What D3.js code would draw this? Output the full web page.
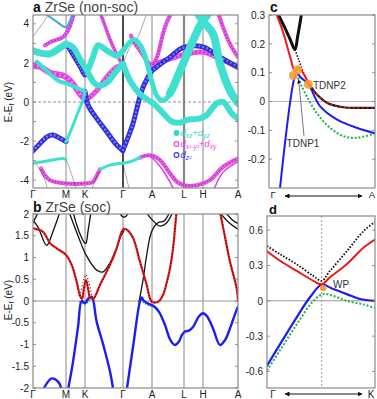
<!DOCTYPE html>
<html>
<head>
<meta charset="utf-8">
<script src="https://cdn.jsdelivr.net/npm/d3@7"></script>
<style>
  body { margin: 0; background: #fff; }
  svg { display: block; font-family: "Liberation Sans", Arial, Helvetica, sans-serif; }
</style>
</head>
<body>
<div id="fig"></div>
<script>
// k-path positions (path length units) and labels
const kTicks = [0, 33, 52, 90, 119, 151, 170, 205];
const kLabels = ["Γ", "M", "K", "Γ", "A", "L", "H", "A"];
const aTicks = [4, 2, 0, -2, -4];
const bTicks = [2, 1.5, 1, 0.5, 0, -0.5, -1, -1.5, -2];
const cTicks = [0.3, 0.2, 0.1, 0, -0.1, -0.2];
const dTicks = [0.6, 0.3, 0, -0.3, -0.6];

// ---- panel a (non-soc) bands, [k, E] ----
const aT_top   = [[0,2.62],[8,2.5],[17,2.46],[25,2.7],[33,2.97]];
const aT_MKa   = [[33,2.97],[40,2.8],[47,2.2],[54,1.6],[60,1.05],[65,0.84],[74,1.0],[82,1.5],[90,1.95]];
const aB_MK    = [[33,2.97],[37,2.63],[47,1.78],[52,1.35],[56,1.75]];
const aT_KG    = [[56,1.75],[60,2.3],[65,2.9],[74,2.63],[84,2.37],[90,2.62]];
const aM_low   = [[0,1.86],[7,1.8],[17,1.5],[30,1.35],[36,1.15],[40,0.92],[47,0.41],[52,0.1]];
const aM_KG    = [[52,0.1],[57,0.25],[63.7,0.58],[73.7,1.27],[83.7,1.78],[90,1.9]];
const aT_low   = [[3.7,2.07],[13.7,1.6],[25,1.1],[33,0.95],[43,0.75],[52,0.55]];
const aM_up    = [[12,2.9],[17,3.06],[30,3.32],[35,3.66],[39,4.17],[41,4.6]];
const aThin1   = [[0,3.35],[8,3.9],[17,4.6]];
const aCB      = [[10,4.6],[22,4.17],[33,3.83],[37,4.17],[40,4.6]];
const aM_KGtop = [[67,4.6],[72,3.9],[77,3.2],[84,2.4],[90,1.85]];
const aB_GM    = [[0,-2.5],[4,-2.29],[14,-1.78],[20,-1.69],[27,-1.86],[33,-2.03]];
const aT_MKlow = [[33,-2.05],[40,-1.2],[46,-0.4],[50,0.1],[52,0.55]];
const aB_KG    = [[52,0.55],[55,-0.15],[63.7,-0.84],[73.7,-1.52],[82,-2.1],[90,-2.5]];
const aT_bot1  = [[0,-3.14],[10,-3.06],[30,-2.89],[33,-2.95]];
const aM_bot   = [[8,-3.4],[12,-3.76],[17,-4.0],[33,-4.17],[52,-4.17],[60,-4.09],[64,-3.74],[67,-3.45]];
const aT_bot2  = [[67,-3.45],[77,-3.23],[90,-3.14]];
const aThinB1  = [[0,-3.0],[5,-3.3],[12,-4.0],[15,-4.6]];
const aThinB2  = [[33,-2.95],[38,-3.6],[44,-4.6]];
const aThinB3  = [[58,-4.6],[63,-3.9],[70,-3.35],[80,-3.18],[90,-3.14]];
const aThinB4  = [[90,-3.14],[92,-3.6],[97,-4.6]];
const aB_GA    = [[90,-2.46],[100,-1.1],[105.5,0],[110,0.75],[115,1.27],[119,1.6],[124,1.8],[137,2.29],[150,2.78],[170,2.82],[187,2.29],[205,1.78]];
const aM_AH    = [[119,1.9],[137,2.2],[154,2.46],[170,2.55],[187,2.2],[205,1.78]];
const aM_AV    = [[98,3.4],[100,3.14],[107,2.63],[113.7,2.12],[119,1.9],[124,2.3],[130,3.49],[134,4.1],[139,4.6]];
const aM_right = [[185,4.6],[190,3.83],[197,2.97],[205,2.29]];
const aThinGA  = [[90,1.95],[97,2.8],[104,3.23],[114,4.6]];
const aT_GA1a  = [[90,2.62],[101,3.2],[108,2.85],[114,2.0],[119,1.0],[124,0.3],[129,0.08],[133,0.15],[137,0.45]];
const aT_GA1b  = [[137,0.45],[140,0.75],[150,1.95],[160,3.14],[167,3.9],[170,4.15],[173,3.95],[180,3.49],[187,1.95],[197,0.58],[205,-0.05]];
const aT_GA2   = [[90,1.95],[97,1.1],[107,0.4],[117,0.04],[120.3,-0.07],[130.3,-0.58],[138.7,-1.0],[147,-1.06],[153.7,-0.92],[167,-0.84],[173.7,-0.67],[183.7,-0.07],[190.3,0.0],[198.7,-0.58],[205,-0.85]];
const aT_Htop  = [[163,4.6],[170,4.15],[177,4.6]];
const aT_bot3  = [[90,-3.14],[97,-3.06],[107,-2.85]];
const aM_bot2  = [[107,-2.85],[117,-2.72],[127,-2.97],[137,-3.65],[144,-4.09],[151,-4.26],[164,-4.26],[177,-4.0],[190,-3.32],[205,-2.89]];
const aThinM1  = [[110,-2.78],[117,-2.8],[127,-3.3],[137,-4.1],[142,-4.6]];
const aThinM2  = [[180,-4.6],[190,-3.6],[205,-3.05]];

// ---- panel b (soc) bands ----
const bRed  = [[0,1.67],[10,1.59],[17,1.33],[23.7,1.21],[33,1.06],[38.7,0.83],[43.7,0.44],[47,0.12],[49,0.05],[51,0.3],[53,0.48],[55,0.3],[57,0.08],[60,0.05],[63,0.15],[67,0.37],[77,0.83],[83.7,1.21],[88.7,1.59],[91,1.66],[95,1.62],[100.3,1.44],[107,0.9],[113.7,0.37],[117,0.06],[119,-0.02],[125,-0.02],[130,0.14],[134,0.45],[137,0.75],[140,1.2],[142,1.67],[143.5,2.05]];
const bRedR = [[187,2.05],[190.3,1.67],[197,0.9],[203.7,0.29],[205,0.0]];
const bDotK = [[47,0.12],[50,0.42],[53,0.6],[56,0.42],[59,0.1]];
const bK1 = [[0,1.85],[5,1.7],[13.7,1.28],[20,1.6],[27,2.05]];
const bK2 = [[0,1.8],[4,1.98],[6,2.05]];
const bK3 = [[40,2.05],[46,1.6],[52,1.33],[53,1.33],[55,1.6],[58,2.05]];
const bK4 = [[36,2.05],[45,1.5],[53,1.06],[63.7,0.71],[70,0.67],[77,0.88],[84,1.25],[88,1.5],[91,1.62]];
const bK5 = [[86,2.05],[89,1.95],[91,1.93],[93,1.95],[96,2.05]];
const bK6 = [[106,-0.02],[110.3,0.52],[113.7,1.06],[118.7,1.6],[125,1.8],[131,1.84],[137,2.05]];
const bK7 = [[113,2.05],[119,1.87],[127,1.72],[133,1.78],[140,2.05]];
const bK8 = [[186,2.05],[197,1.78],[205,1.65]];
const bK9 = [[192,2.05],[200,1.85],[205,1.78]];
const bBlue1 = [[10,-2.05],[13.7,-1.9],[18.7,-1.78],[25.3,-1.86],[28.7,-2.05]];
const bBlue2 = [[35,-2.05],[40,-1.4],[45,-0.6],[48.7,0.0],[52,-0.05],[55,0.05],[58.7,0.1],[63.7,-0.48],[70.3,-1.01],[77,-1.62],[80.3,-2.05]];
const bBlue3 = [[93.7,-2.05],[100.3,-1.01],[107,0.0],[108.7,0.08],[111,0.0],[116,-0.07],[121,-0.12],[126,-0.25],[132,-0.55],[137,-0.88],[142,-1.01],[146,-0.93],[149,-0.78],[152,-0.7],[156,-0.68],[160,-0.6],[166,-0.35],[170,-0.28],[174,-0.35],[180,-0.63],[187,-1.01],[192,-0.9],[197,-0.63],[202,-0.3],[205,-0.13]];
const bGreenK = [[46,-0.02],[49,-0.04],[52,-0.06],[55,-0.02],[57,0.05]];
const bGreenA = [[108,0.03],[112,-0.05],[116,-0.1],[120,-0.13],[124,-0.18]];

// ---- panel c (Γ-A zoom, k as fraction) ----
const cBlackV   = [[0.09,0.30],[0.15,0.255],[0.2,0.215],[0.245,0.18],[0.27,0.225],[0.305,0.30]];
const cBlackDot = [[0.245,0.18],[0.28,0.145],[0.32,0.105],[0.371,0.065]];
const cBlackLow = [[0.371,0.065],[0.45,0.025],[0.55,-0.005],[0.70,-0.02],[0.85,-0.022],[1.0,-0.022]];
const cRed      = [[0.073,0.30],[0.135,0.238],[0.198,0.157],[0.245,0.105],[0.277,0.117],[0.371,0.065]];
const cBlue     = [[0.104,-0.30],[0.245,0.088],[0.265,0.098],[0.30,0.083],[0.371,0.06],[0.481,-0.016],[0.639,-0.062],[0.827,-0.091],[1.0,-0.11]];
const cGreen    = [[0.26,0.095],[0.30,0.06],[0.356,0.018],[0.45,-0.04],[0.575,-0.091],[0.70,-0.12],[0.827,-0.126],[1.0,-0.11]];
const cNodes    = [[0.23,0.09],[0.27,0.11],[0.371,0.06]];

// ---- panel d (Γ-K zoom) ----
const dBlackDot = [[0,0.466],[0.12,0.396],[0.275,0.31],[0.43,0.21],[0.506,0.17],[0.583,0.254],[0.738,0.42],[0.892,0.59],[1.0,0.67]];
const dRed      = [[0,0.42],[0.12,0.34],[0.275,0.254],[0.43,0.17],[0.506,0.14],[0.583,0.2],[0.738,0.31],[0.892,0.45],[1.0,0.52]];
const dBlue     = [[0,-0.55],[0.12,-0.37],[0.275,-0.14],[0.398,0.03],[0.506,0.136],[0.614,0.1],[0.738,0.057],[0.861,0.015],[1.0,0.0]];
const dGreen    = [[0,-0.59],[0.12,-0.42],[0.275,-0.2],[0.43,0.0],[0.52,0.057],[0.614,0.042],[0.738,0.0],[0.892,-0.03],[1.0,-0.06]];
const dWP = [0.52, 0.108];

const svg = d3.select("#fig").append("svg").attr("width", 377).attr("height", 399);
const defs = svg.append("defs");

const clip = (id, x, y, w, h) => defs.append("clipPath").attr("id", id)
  .append("rect").attr("x", x).attr("y", y).attr("width", w).attr("height", h);
clip("ca", 33, 15, 205, 173);
clip("cb", 33, 214, 205, 174);
clip("cc", 269, 15, 106, 173);
clip("cd", 267, 216, 108, 172);

defs.append("marker").attr("id", "ah").attr("viewBox", "0 0 10 10")
  .attr("refX", 9).attr("refY", 5).attr("markerWidth", 5).attr("markerHeight", 5)
  .attr("orient", "auto-start-reverse")
  .append("path").attr("d", "M0,0L10,5L0,10z").attr("fill", "#111");

const xa = d3.scaleLinear().domain([0, 205]).range([33, 238]);
const ya = d3.scaleLinear().domain([-4.4, 4.45]).range([188, 15]);
const yb = d3.scaleLinear().domain([-2, 2]).range([388, 214]);
const xc = d3.scaleLinear().domain([0, 1]).range([269, 375]);
const yc = d3.scaleLinear().domain([-0.3, 0.3]).range([188, 15]);
const xd = d3.scaleLinear().domain([0, 1]).range([267, 375]);
const yd = d3.scaleLinear().domain([-0.74, 0.72]).range([388, 216]);

// dashed lines get butt caps so the gaps stay open
function path(g, x, y, pts, color, w, dash, cap) {
  const line = d3.line().x(d => x(d[0])).y(d => y(d[1])).curve(d3.curveCatmullRom);
  const p = g.append("path").attr("d", line(pts)).attr("fill", "none")
    .attr("stroke", color).attr("stroke-width", w)
    .attr("stroke-linecap", cap || (dash ? "butt" : "round")).attr("stroke-linejoin", "round");
  if (dash) p.attr("stroke-dasharray", dash);
  return p;
}

const orbColor = {t: "#40e0d0", m: "#f23cf2", b: "#2d2df0", c: "#3aa8e0"};
function fat(g, x, y, pts, orb, w) {
  path(g, x, y, pts, orbColor[orb], w);
  if (orb === "m" || orb === "b") {
    path(g, x, y, pts, "#fff", w * 0.45, `0 ${w * 0.8}`, "round").attr("stroke-opacity", 0.55);
  }
}

function yAxis(x0, y, ticks) {
  svg.append("g").attr("transform", `translate(${x0},0)`)
    .call(d3.axisLeft(y).tickValues(ticks).tickSize(0).tickPadding(4).tickFormat(d => String(d)))
    .call(g => g.select(".domain").remove())
    .call(g => g.selectAll("text").attr("font-size", 10).attr("fill", "#222")
      .attr("font-family", "Liberation Sans, Arial, sans-serif"));
}
function ticksInside(x0, x1, y, vals) {
  const g = svg.append("g").attr("stroke", "#777").attr("stroke-width", 0.8);
  vals.forEach(v => {
    g.append("line").attr("x1", x0).attr("x2", x0 + 3).attr("y1", y(v)).attr("y2", y(v));
    g.append("line").attr("x1", x1).attr("x2", x1 - 3).attr("y1", y(v)).attr("y2", y(v));
  });
}
function frame(x, y, w, h) {
  svg.append("rect").attr("x", x).attr("y", y).attr("width", w).attr("height", h)
    .attr("fill", "none").attr("stroke", "#8a8a8a").attr("stroke-width", 1.2);
}
function eLabel(cx, cy) {
  const t = svg.append("text").attr("transform", `translate(${cx},${cy}) rotate(-90)`)
    .attr("text-anchor", "middle").attr("font-size", 10).attr("fill", "#222");
  t.append("tspan").text("E-E");
  t.append("tspan").attr("font-size", 7).attr("dy", 2).text("f");
  t.append("tspan").attr("dy", -2).text(" (eV)");
}
function title(x, y, letter, rest, size) {
  const t = svg.append("text").attr("x", x).attr("y", y).attr("font-size", size || 14).attr("fill", "#444");
  t.append("tspan").attr("font-weight", "bold").attr("fill", "#111").text(letter);
  if (rest) t.append("tspan").text(rest);
}

// ================= panel a =================
const ga = svg.append("g").attr("clip-path", "url(#ca)");
const kStroke = ["#888", "#888", "#111", "#888", "#888", "#888"];
const kWidth = [1, 1, 1.5, 1, 2.2, 1];
kTicks.slice(1, -1).forEach((k, i) => {
  ga.append("line").attr("x1", xa(k)).attr("x2", xa(k)).attr("y1", 15).attr("y2", 188)
    .attr("stroke", kStroke[i]).attr("stroke-width", kWidth[i]);
});
ga.append("line").attr("x1", 33).attr("x2", 238).attr("y1", ya(0)).attr("y2", ya(0))
  .attr("stroke", "#888").attr("stroke-width", 0.9).attr("stroke-dasharray", "3 2");

const aHollow = [
  [aM_low, "m", 6], [aM_KG, "m", 5], [aM_up, "m", 4], [aM_KGtop, "m", 3.5], [aM_AV, "m", 4],
  [aM_AH, "m", 5], [aM_right, "m", 4], [aM_bot, "m", 4], [aM_bot2, "m", 4],
  [aB_MK, "b", 4], [aB_GM, "b", 5], [aB_KG, "b", 5], [aB_GA, "b", 5]
];
const aFilled = [
  [aT_top, "t", 7], [aT_MKa, "t", 6], [aT_KG, "t", 6], [aT_low, "t", 4], [aT_MKlow, "t", 3],
  [aT_GA1a, "t", 5], [aT_GA1b, "t", 8], [aT_GA2, "t", 6], [aT_Htop, "t", 6],
  [aT_bot1, "t", 3], [aT_bot2, "t", 3], [aT_bot3, "t", 3], [aCB, "c", 2]
];
const aThinOnly = [aThin1, aThinGA, aThinB1, aThinB2, aThinB3, aThinB4, aThinM1, aThinM2];

aHollow.forEach(([pts, o, w]) => fat(ga, xa, ya, pts, o, w));
aHollow.concat(aFilled).map(d => d[0]).concat(aThinOnly).forEach(pts =>
  path(ga, xa, ya, pts, "#333", 0.6).attr("stroke-opacity", 0.7));
path(ga, xa, ya, aThinM1, "#e040e0", 1.4);
path(ga, xa, ya, aThinM2, "#e040e0", 1.4);
aFilled.forEach(([pts, o, w]) => fat(ga, xa, ya, pts, o, w));

frame(33, 15, 205, 173);
ticksInside(33, 238, ya, [4, 3, 2, 1, 0, -1, -2, -3, -4]);
yAxis(33, ya, aTicks);
eLabel(12, 102);
title(33, 11.5, "a", " ZrSe (non-soc)");

// legend
const leg = svg.append("g").attr("font-size", 9.5).attr("font-style", "italic");
function legItem(y, color, filled, parts) {
  leg.append("circle").attr("cx", 176.5).attr("cy", y - 3).attr("r", 2.4)
    .attr("fill", filled ? color : "none").attr("stroke", color).attr("stroke-width", 1.1);
  const t = leg.append("text").attr("x", 180.5).attr("y", y).attr("fill", color);
  let low = false;
  parts.forEach(([s, sub]) => {
    const sp = t.append("tspan").text(s);
    if (sub) { sp.attr("font-size", 6.5).attr("dy", low ? 0 : 1.5); low = true; }
    else { sp.attr("dy", low ? -1.5 : 0); low = false; }
  });
}
legItem(136, "#35d8c8", true, [["d"], ["xz", 1], ["+d"], ["yz", 1]]);
legItem(147, "#f03cf0", false, [["d"], ["x²-y²", 1], ["+d"], ["xy", 1]]);
legItem(158, "#3535f0", false, [["d"], ["z²", 1]]);

// ================= panel b =================
const gb = svg.append("g").attr("clip-path", "url(#cb)");
kTicks.slice(1, -1).forEach(k => {
  gb.append("line").attr("x1", xa(k)).attr("x2", xa(k)).attr("y1", 214).attr("y2", 388)
    .attr("stroke", "#888").attr("stroke-width", 1);
});
gb.append("line").attr("x1", 33).attr("x2", 238).attr("y1", yb(0)).attr("y2", yb(0))
  .attr("stroke", "#999").attr("stroke-width", 1.2);

[bK1, bK2, bK3, bK4, bK5, bK6, bK7, bK8, bK9].forEach(p => path(gb, xa, yb, p, "#111", 1.3));
[bGreenK, bGreenA].forEach(p => path(gb, xa, yb, p, "#22b04a", 1.8, "1.5 1.2"));
[bBlue1, bBlue2, bBlue3].forEach(p => path(gb, xa, yb, p, "#1c1cf5", 2.4));
[bRed, bRedR].forEach(p => path(gb, xa, yb, p, "#f01818", 2.2));
[bRed, bRedR, bDotK].forEach(p => path(gb, xa, yb, p, "#111", 1.1, "1 2.2"));

frame(33, 214, 205, 174);
ticksInside(33, 238, yb, bTicks);
yAxis(33, yb, bTicks);
eLabel(12, 300);
title(33, 212, "b", " ZrSe (soc)");

// k labels, panels a and b
[198, 398].forEach(yy => {
  kTicks.forEach((k, i) => svg.append("text").attr("x", xa(k)).attr("y", yy)
    .attr("text-anchor", "middle").attr("font-size", 10).attr("fill", "#222").text(kLabels[i]));
});

// ================= panel c =================
const gc = svg.append("g").attr("clip-path", "url(#cc)");
gc.append("line").attr("x1", 269).attr("x2", 375).attr("y1", yc(0)).attr("y2", yc(0))
  .attr("stroke", "#aaa").attr("stroke-width", 0.9);
path(gc, xc, yc, cBlackV, "#111", 3);
path(gc, xc, yc, cBlackDot, "#111", 1.6, "1.4 1.6");
path(gc, xc, yc, cGreen, "#22b04a", 2, "2 1.8");
path(gc, xc, yc, cBlue, "#1c1cf5", 2);
path(gc, xc, yc, cBlackLow, "#111", 2.2);
path(gc, xc, yc, cBlackLow, "#f01818", 1.4, "2.5 2");
path(gc, xc, yc, cRed, "#f01818", 2);
cNodes.forEach(d => gc.append("circle").attr("cx", xc(d[0])).attr("cy", yc(d[1])).attr("r", 4.5)
  .attr("fill", "#f5a035").attr("fill-opacity", 0.9));
frame(269, 15, 106, 173);
ticksInside(269, 375, yc, [0.3, 0.2, 0.1, 0, -0.1, -0.2]);
yAxis(269, yc, cTicks);
title(270, 11.5, "c");
svg.append("text").attr("x", 313).attr("y", 89).attr("font-size", 10).attr("fill", "#333").text("TDNP2");
svg.append("text").attr("x", 303).attr("y", 147).attr("text-anchor", "middle")
  .attr("font-size", 10).attr("fill", "#333").text("TDNP1");
svg.append("line").attr("x1", 304).attr("y1", 136).attr("x2", xc(0.28)).attr("y2", yc(0.075))
  .attr("stroke", "#555").attr("stroke-width", 0.8).attr("marker-end", "url(#ah)");
svg.append("text").attr("x", 273).attr("y", 198).attr("text-anchor", "middle").attr("font-size", 9.5).attr("fill", "#222").text("Γ");
svg.append("text").attr("x", 372).attr("y", 198).attr("text-anchor", "middle").attr("font-size", 9.5).attr("fill", "#222").text("A");
svg.append("line").attr("x1", 285).attr("x2", 362).attr("y1", 196).attr("y2", 196)
  .attr("stroke", "#111").attr("stroke-width", 1)
  .attr("marker-start", "url(#ah)").attr("marker-end", "url(#ah)");

// ================= panel d =================
const gd = svg.append("g").attr("clip-path", "url(#cd)");
gd.append("line").attr("x1", 267).attr("x2", 375).attr("y1", yd(0)).attr("y2", yd(0))
  .attr("stroke", "#999").attr("stroke-width", 1.1);
gd.append("line").attr("x1", xd(0.506)).attr("x2", xd(0.506)).attr("y1", 216).attr("y2", 388)
  .attr("stroke", "#888").attr("stroke-width", 0.8).attr("stroke-dasharray", "2 2");
path(gd, xd, yd, dGreen, "#22b04a", 2, "2 1.8");
path(gd, xd, yd, dBlue, "#1c1cf5", 2.2);
path(gd, xd, yd, dBlackDot, "#111", 1.8, "1.6 1.6");
path(gd, xd, yd, dRed, "#f01818", 2);
gd.append("circle").attr("cx", xd(dWP[0])).attr("cy", yd(dWP[1])).attr("r", 3.2)
  .attr("fill", "#f5a035");
frame(267, 216, 108, 172);
ticksInside(267, 375, yd, dTicks);
yAxis(267, yd, dTicks);
title(269, 214, "d", null, 13);
svg.append("text").attr("x", 333).attr("y", 288).attr("font-size", 10).attr("fill", "#333").text("WP");
svg.append("text").attr("x", 273).attr("y", 398).attr("text-anchor", "middle").attr("font-size", 10).attr("fill", "#222").text("Γ");
svg.append("text").attr("x", 371).attr("y", 398).attr("text-anchor", "middle").attr("font-size", 10).attr("fill", "#222").text("K");
svg.append("line").attr("x1", 285).attr("x2", 362).attr("y1", 394).attr("y2", 394)
  .attr("stroke", "#111").attr("stroke-width", 1)
  .attr("marker-start", "url(#ah)").attr("marker-end", "url(#ah)");
</script>
</body>
</html>
